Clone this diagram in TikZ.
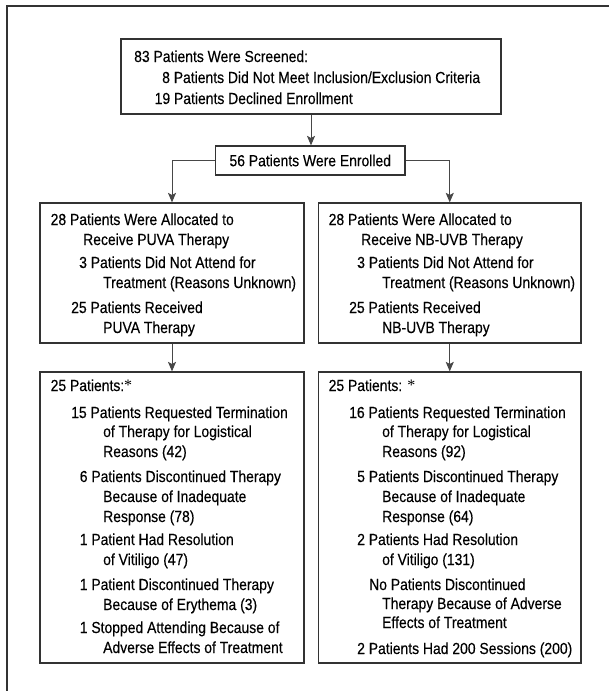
\documentclass[tikz,border=0pt]{standalone}
\usepackage{fontspec}
\setmainfont{Liberation Sans}[FakeStretch=0.87,FakeBold=0.3]
\newfontfamily\astfont{Liberation Serif}
\usetikzlibrary{arrows.meta}
\newcommand\putline[4]{\node[txt] (#1) at (#2,#3) {#4};}
\newcommand\myast{\raisebox{1pt}{\astfont *}}
\begin{document}
\begin{tikzpicture}[x=1pt,y=-1pt,
  box/.style={draw=black!80, line width=1.2pt, inner sep=0pt, rectangle},
  txt/.style={anchor=base west, inner sep=0pt, text=black, font=\fontsize{16}{19}\selectfont},
  ctxt/.style={inner sep=0pt, text=black, font=\fontsize{16}{19}\selectfont},
  conn/.style={draw=black!72, line width=1pt, -{Stealth[length=9.5pt,width=8pt,inset=2pt]}},
  frame/.style={draw=black!80, line width=1.3pt}]
\useasboundingbox (0,0) rectangle (609,691);
% outer frame
\coordinate (fb) at (7,691);
\coordinate (fc) at (7,6);
\coordinate (fr) at (609,6);
\draw[frame] (fb) -- (fc) -- (fr);
% boxes
\node[box, minimum width=380pt, minimum height=75pt] (screen) at (311,76.5) {};
\node[box, minimum width=189.5pt, minimum height=29pt] (enrol) at (310.25,160.5) {};
\node[box, minimum width=264pt, minimum height=140pt] (puva) at (172,273) {};
\node[box, minimum width=262.5pt, minimum height=140pt] (nbuvb) at (449.75,273) {};
\node[box, minimum width=264pt, minimum height=291pt] (puvaout) at (172,517.5) {};
\node[box, minimum width=262.5pt, minimum height=291pt] (nbout) at (449.75,517.5) {};
% connectors
\draw[conn] (screen.south) -- (screen.south |- enrol.north);
\draw[conn] (enrol.west) -| (puva.north);
\draw[conn] (enrol.east) -| (nbuvb.north);
\draw[conn] (puva.south) -- (puvaout.north);
\draw[conn] (nbuvb.south) -- (nbout.north);
% top box text
\putline{s1}{134}{62}{83 Patients Were Screened:}
\putline{s2}{162}{83}{8 Patients Did Not Meet Inclusion/Exclusion Criteria}
\putline{s3}{154.5}{104}{19 Patients Declined Enrollment}
\node[ctxt] (etext) at (enrol.center) {56 Patients Were Enrolled};
% left allocation box
\putline{a1}{50.5}{225}{28 Patients Were Allocated to}
\putline{a2}{83}{245}{Receive PUVA Therapy}
\putline{a3}{79}{268}{3 Patients Did Not Attend for}
\putline{a4}{103}{288}{Treatment (Reasons Unknown)}
\putline{a5}{71}{313}{25 Patients Received}
\putline{a6}{103}{333}{PUVA Therapy}
% right allocation box
\putline{b1}{328.5}{225}{28 Patients Were Allocated to}
\putline{b2}{361}{245}{Receive NB-UVB Therapy}
\putline{b3}{357}{268}{3 Patients Did Not Attend for}
\putline{b4}{382}{288}{Treatment (Reasons Unknown)}
\putline{b5}{349}{313}{25 Patients Received}
\putline{b6}{382}{333}{NB-UVB Therapy}
% left outcome box
\putline{c1}{50.5}{391}{25 Patients:\myast}
\putline{c2}{71}{418}{15 Patients Requested Termination}
\putline{c3}{103}{437}{of Therapy for Logistical}
\putline{c4}{103}{457}{Reasons (42)}
\putline{c5}{79.6}{482}{6 Patients Discontinued Therapy}
\putline{c6}{103}{502}{Because of Inadequate}
\putline{c7}{103}{522}{Response (78)}
\putline{c8}{79.6}{545}{1 Patient Had Resolution}
\putline{c9}{103}{565}{of Vitiligo (47)}
\putline{c10}{79.6}{590}{1 Patient Discontinued Therapy}
\putline{c11}{103}{610}{Because of Erythema (3)}
\putline{c12}{79.6}{633}{1 Stopped Attending Because of}
\putline{c13}{103}{653}{Adverse Effects of Treatment}
% right outcome box
\putline{d1}{328.5}{391}{25 Patients: \myast}
\putline{d2}{349}{418}{16 Patients Requested Termination}
\putline{d3}{382}{437}{of Therapy for Logistical}
\putline{d4}{382}{457}{Reasons (92)}
\putline{d5}{357}{482}{5 Patients Discontinued Therapy}
\putline{d6}{382}{502}{Because of Inadequate}
\putline{d7}{382}{522}{Response (64)}
\putline{d8}{357}{545}{2 Patients Had Resolution}
\putline{d9}{382}{565}{of Vitiligo (131)}
\putline{d10}{369}{590}{No Patients Discontinued}
\putline{d11}{382}{609}{Therapy Because of Adverse}
\putline{d12}{382}{628}{Effects of Treatment}
\putline{d13}{357}{654}{2 Patients Had 200 Sessions (200)}
\end{tikzpicture}
\end{document}
